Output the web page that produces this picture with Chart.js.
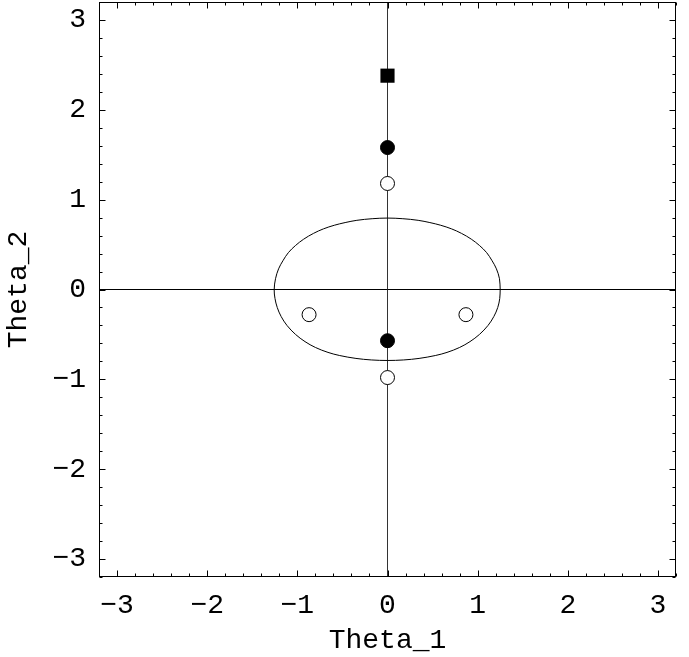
<!DOCTYPE html>
<html>
<head>
<meta charset="utf-8">
<script src="https://cdn.jsdelivr.net/npm/chart.js@4/dist/chart.umd.min.js"></script>
<style>
  html, body { margin: 0; padding: 0; background: #fff; }
  #wrap { width: 689px; height: 657px; }
</style>
</head>
<body>
<div id="wrap"><canvas id="c" width="689" height="657"></canvas></div>
<script>
// ---- data ----
const axisMin = -3.2;
const axisMax = 3.2;
const tickValues = [-3, -2, -1, 0, 1, 2, 3];
const xTitle = 'Theta_1';
const yTitle = 'Theta_2';

// closed curve (counter-clockwise)
const curveX = [1.25, 1.242, 1.208, 1.16, 1.10, 1.02, 0.93, 0.82, 0.71, 0.59, 0.47, 0.34, 0.17, 0,
  -0.17, -0.34, -0.47, -0.59, -0.71, -0.82, -0.93, -1.02, -1.10, -1.16, -1.208, -1.242, -1.257,
  -1.248, -1.223, -1.18, -1.115, -1.02, -0.915, -0.80, -0.66, -0.53, -0.35, -0.18, 0,
  0.18, 0.35, 0.53, 0.66, 0.80, 0.915, 1.02, 1.115, 1.18, 1.223, 1.245, 1.25];
const curveY = [0, 0.12, 0.23, 0.32, 0.41, 0.49, 0.56, 0.625, 0.675, 0.715, 0.745, 0.77, 0.788, 0.795,
  0.788, 0.77, 0.745, 0.715, 0.675, 0.625, 0.56, 0.49, 0.41, 0.32, 0.23, 0.12, 0,
  -0.10, -0.20, -0.30, -0.40, -0.50, -0.58, -0.645, -0.70, -0.735, -0.767, -0.784, -0.79,
  -0.784, -0.767, -0.735, -0.70, -0.645, -0.58, -0.50, -0.40, -0.30, -0.20, -0.10, 0];

const openX = [0, -0.87, 0.87, 0];
const openY = [1.18, -0.28, -0.28, -0.98];
const filledX = [0, 0];
const filledY = [1.58, -0.57];
const squareX = [0];
const squareY = [2.38];

// ---- build ----
const zip = (xs, ys) => xs.map((x, i) => ({ x: x, y: ys[i] }));
const FONT = 'Liberation Mono, Courier New, monospace';

const framePlugin = {
  id: 'frame',
  afterDatasetsDraw(chart) {
    const { ctx, chartArea: a, scales } = chart;
    const xs = scales.x, ys = scales.y;
    ctx.save();
    ctx.strokeStyle = '#000';
    ctx.lineWidth = 1;
    const L = Math.round(a.left) + 0.5, T = Math.round(a.top) + 0.5;
    const R = Math.round(a.right) - 0.5, B = Math.round(a.bottom) - 0.5;
    ctx.strokeRect(L, T, R - L, B - T);
    ctx.beginPath();
    for (let k = -16; k <= 16; k++) {
      const v = k / 5;
      const major = (k % 5 === 0);
      const len = major ? 6 : 3;
      const px = Math.round(xs.getPixelForValue(v)) + 0.5;
      const py = Math.round(ys.getPixelForValue(v)) + 0.5;
      ctx.moveTo(px, B); ctx.lineTo(px, B - len);
      ctx.moveTo(px, T); ctx.lineTo(px, T + len);
      ctx.moveTo(L, py); ctx.lineTo(L + len, py);
      ctx.moveTo(R, py); ctx.lineTo(R - len, py);
    }
    ctx.stroke();
    ctx.restore();
  }
};

const tickFmt = v => (v < 0 ? '\u2212' + Math.abs(v) : String(v));

new Chart(document.getElementById('c'), {
  type: 'scatter',
  data: {
    datasets: [
      { data: [{ x: axisMin, y: 0 }, { x: axisMax, y: 0 }], showLine: true, borderColor: '#000',
        borderWidth: 1, pointRadius: 0, order: 5 },
      { data: [{ x: 0, y: axisMin }, { x: 0, y: axisMax }], showLine: true, borderColor: '#333',
        borderWidth: 1, pointRadius: 0, order: 5 },
      { data: zip(curveX, curveY), showLine: true, borderColor: '#000', borderWidth: 1,
        pointRadius: 0, tension: 0.35, order: 4 },
      { data: zip(openX, openY), pointStyle: 'circle', pointRadius: 7, backgroundColor: '#fff',
        borderColor: '#000', borderWidth: 1, order: 1 },
      { data: zip(filledX, filledY), pointStyle: 'circle', pointRadius: 7, backgroundColor: '#000',
        borderColor: '#000', borderWidth: 1, order: 1 },
      { data: zip(squareX, squareY), pointStyle: 'rect', pointRadius: 10, backgroundColor: '#000',
        borderColor: '#000', borderWidth: 0, order: 1 }
    ]
  },
  options: {
    responsive: false,
    animation: false,
    devicePixelRatio: 1,
    layout: { autoPadding: false, padding: { top: 2, right: 13, left: 0, bottom: 0 } },
    plugins: { legend: { display: false }, tooltip: { enabled: false } },
    scales: {
      x: {
        type: 'linear', min: axisMin, max: axisMax,
        grid: { display: false, drawTicks: false }, border: { display: false },
        afterBuildTicks: s => { s.ticks = tickValues.map(v => ({ value: v })); },
        afterFit: s => { s.height = 80; s.paddingLeft = 0; s.paddingRight = 0; },
        ticks: { color: '#000', font: { family: FONT, size: 28 }, padding: 12,
          maxRotation: 0, autoSkip: false, callback: tickFmt },
        title: { display: true, text: xTitle, color: '#000',
          font: { family: FONT, size: 28 }, padding: { top: 7, bottom: 0 } }
      },
      y: {
        type: 'linear', min: axisMin, max: axisMax,
        grid: { display: false, drawTicks: false }, border: { display: false },
        afterBuildTicks: s => { s.ticks = tickValues.map(v => ({ value: v })); },
        afterFit: s => { s.width = 99; s.paddingTop = 0; s.paddingBottom = 0; },
        ticks: { color: '#000', font: { family: FONT, size: 28 }, padding: 13,
          autoSkip: false, callback: tickFmt },
        title: { display: true, text: yTitle, color: '#000',
          font: { family: FONT, size: 28 }, padding: { top: 2, bottom: 0 } }
      }
    }
  },
  plugins: [framePlugin]
});
</script>
</body>
</html>
